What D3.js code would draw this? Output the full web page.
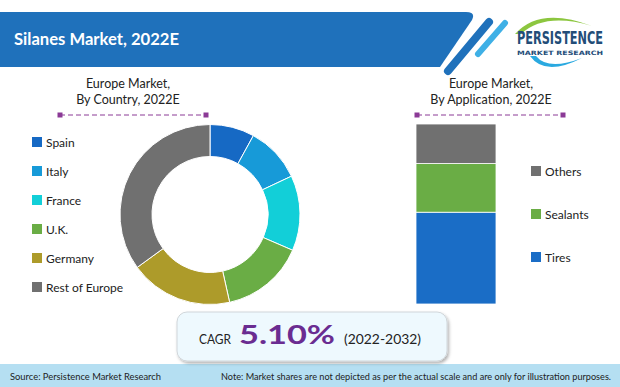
<!DOCTYPE html>
<html>
<head>
<meta charset="utf-8">
<script src="https://cdn.jsdelivr.net/npm/d3@7"></script>
<style>
body { margin: 0; background: #fff; }
svg { display: block; font-family: Lato, "Open Sans", sans-serif; }
</style>
</head>
<body>
<div class="chart"></div>
<script>
var width = 620,
	height = 387;

// data
var countries = ["Spain", "Italy", "France", "U.K.", "Germany", "Rest of Europe"];
var countryShare = [8, 10, 13.5, 15, 18.5, 35];
var countryColors = ["#1669c4", "#179ad8", "#12cfd8", "#6aad45", "#ad9b2a", "#707070"];
var applications = ["Tires", "Sealants", "Others"];
var applicationShare = [51, 27, 22];
var applicationColors = ["#1a6dc6", "#6aad45", "#707070"];
var title = "Silanes Market, 2022E";
var cagr = "5.10%";
var cagrPeriod = "(2022-2032)";

var svg = d3.select(".chart").append("svg").attr("width", width).attr("height", height);

// header banner
svg.append("path")
	.attr("d", "M0,12 L466,12 Q476,12 472,20 L440,67 L0,67 Z")
	.attr("fill", "#1f71bb");
svg.append("line").attr("x1", 489).attr("y1", 22).attr("x2", 448).attr("y2", 71)
	.attr("stroke", "#1f71bb").attr("stroke-width", 8).attr("stroke-linecap", "round");
svg.append("line").attr("x1", 505).attr("y1", 23).attr("x2", 478).attr("y2", 54)
	.attr("stroke", "#3fb0e6").attr("stroke-width", 6).attr("stroke-linecap", "round");
svg.append("text").attr("x", 14).attr("y", 45)
	.attr("fill", "#fff").attr("font-size", 17).attr("font-weight", "bold")
	.attr("textLength", 165).attr("lengthAdjust", "spacingAndGlyphs")
	.text(title);

// logo
var logo = svg.append("g");
logo.append("path")
	.attr("d", "M515,34 Q540,6 592,26 Q545,12 521,34 Z")
	.attr("fill", "#8cc63f");
logo.append("path")
	.attr("d", "M530,56 Q545,77 582,58 Q548,71 536,56 Z")
	.attr("fill", "#2aa9e0");
logo.append("text").attr("transform", "translate(517,44) scale(1,1.4)")
	.attr("fill", "#234d78").attr("font-size", 12.5).attr("font-weight", "bold")
	.attr("font-family", "'DejaVu Sans Condensed', sans-serif")
	.attr("textLength", 86).attr("lengthAdjust", "spacingAndGlyphs")
	.text("PERSISTENCE");
logo.append("text").attr("x", 517).attr("y", 55)
	.attr("fill", "#234d78").attr("font-size", 6).attr("font-weight", "bold")
	.attr("font-family", "'DejaVu Sans', sans-serif")
	.attr("textLength", 86).attr("lengthAdjust", "spacingAndGlyphs")
	.text("MARKET RESEARCH");

// section titles with dashed rule
function sectionTitle(cx, lines, x1, x2) {
	var t = svg.append("text").attr("text-anchor", "middle").attr("font-size", 12.5).attr("fill", "#222");
	lines.forEach(function(l, i) {
		t.append("tspan").attr("x", cx).attr("y", 88 + i * 16).text(l);
	});
	svg.append("line").attr("x1", x1).attr("x2", x2).attr("y1", 115).attr("y2", 115)
		.attr("stroke", "#8b3a96").attr("stroke-dasharray", "5,3");
	[x1, x2].forEach(function(x) {
		svg.append("rect").attr("x", x - 2.5).attr("y", 112.5).attr("width", 5).attr("height", 5).attr("fill", "#8b3a96");
	});
}
sectionTitle(128, ["Europe Market,", "By Country, 2022E"], 60, 206);
sectionTitle(491, ["Europe Market,", "By Application, 2022E"], 417, 563);

// donut
var pie = d3.pie().sort(null).value(function(d) { return d; });
var arc = d3.arc().innerRadius(58).outerRadius(90);
var donut = svg.append("g").attr("transform", "translate(210,214.5)");
donut.selectAll("path").data(pie(countryShare)).enter().append("path")
	.attr("d", arc)
	.attr("fill", function(d, i) { return countryColors[i]; })
	.attr("stroke", "#fff").attr("stroke-width", 1);

var ly = d3.scalePoint().domain(countries).range([142, 287]);
var leg = svg.selectAll(".cleg").data(countries).enter().append("g")
	.attr("transform", function(d) { return "translate(32," + ly(d) + ")"; });
leg.append("rect").attr("x", 0).attr("y", -5).attr("width", 10).attr("height", 10)
	.attr("fill", function(d, i) { return countryColors[i]; });
leg.append("text").attr("x", 14).attr("y", 4.5).attr("font-size", 12).attr("fill", "#222")
	.text(function(d) { return d; });

// stacked bar
var y = d3.scaleLinear().domain([0, 100]).range([304, 124]);
var row = {};
applications.forEach(function(a, i) { row[a] = applicationShare[i]; });
var stack = d3.stack().keys(applications)([row]);
svg.selectAll(".bar").data(stack).enter().append("rect")
	.attr("x", 416).attr("width", 80)
	.attr("y", function(d) { return y(d[0][1]); })
	.attr("height", function(d) { return y(d[0][0]) - y(d[0][1]); })
	.attr("fill", function(d, i) { return applicationColors[i]; })
	.attr("stroke", "#fff").attr("stroke-width", 0.8);

var ay = d3.scalePoint().domain(applications.slice().reverse()).range([171, 257]);
var aleg = svg.selectAll(".aleg").data(applications).enter().append("g")
	.attr("transform", function(d) { return "translate(531," + ay(d) + ")"; });
aleg.append("rect").attr("x", 0).attr("y", -5).attr("width", 10).attr("height", 10)
	.attr("fill", function(d, i) { return applicationColors[i]; });
aleg.append("text").attr("x", 14).attr("y", 4.5).attr("font-size", 12).attr("fill", "#222")
	.text(function(d) { return d; });

// footer
svg.append("rect").attr("x", 0).attr("y", 364).attr("width", width).attr("height", 23).attr("fill", "#b5dff2");
svg.append("text").attr("x", 10).attr("y", 380).attr("font-size", 9.5).attr("fill", "#222")
	.attr("textLength", 151).attr("lengthAdjust", "spacingAndGlyphs")
	.text("Source: Persistence Market Research");
svg.append("text").attr("x", 221).attr("y", 380).attr("font-size", 9).attr("fill", "#222")
	.attr("textLength", 390).attr("lengthAdjust", "spacingAndGlyphs")
	.text("Note: Market shares are not depicted as per the actual scale and are only for illustration purposes.");

// CAGR box
var defs = svg.append("defs");
var f = defs.append("filter").attr("id", "sh").attr("x", "-10%").attr("y", "-10%").attr("width", "130%").attr("height", "140%");
f.append("feDropShadow").attr("dx", 1.5).attr("dy", 2).attr("stdDeviation", 1.5).attr("flood-color", "#000").attr("flood-opacity", 0.3);
svg.append("rect").attr("x", 177).attr("y", 312).attr("width", 270).attr("height", 49).attr("rx", 10)
	.attr("fill", "#eef9fe").attr("stroke", "#d0d6da").attr("filter", "url(#sh)");
svg.append("text").attr("x", 199).attr("y", 344).attr("font-size", 13.5).attr("fill", "#222")
	.attr("textLength", 32).attr("lengthAdjust", "spacingAndGlyphs").text("CAGR");
svg.append("text").attr("x", 239).attr("y", 344).attr("font-size", 26).attr("font-weight", "bold")
	.attr("fill", "#6a2c91").attr("textLength", 96).attr("lengthAdjust", "spacingAndGlyphs").text(cagr);
svg.append("text").attr("x", 344).attr("y", 344).attr("font-size", 14).attr("fill", "#222")
	.attr("textLength", 77).attr("lengthAdjust", "spacingAndGlyphs").text(cagrPeriod);
</script>
</body>
</html>
